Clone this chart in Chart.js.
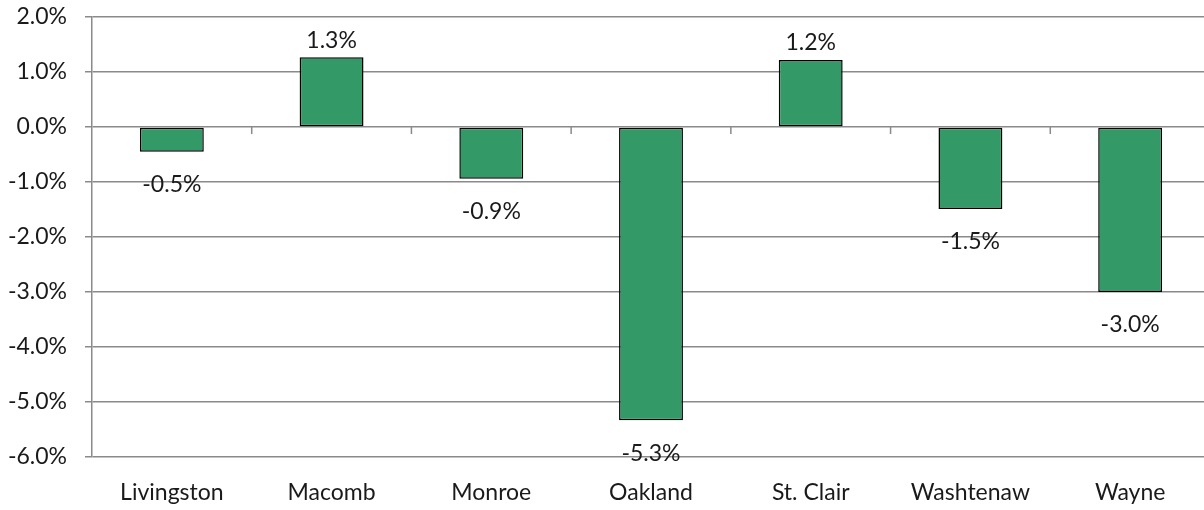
<!DOCTYPE html>
<html lang="en">
<head>
    <meta charset="UTF-8">
    <title>Change by County</title>
    <script src="https://cdn.jsdelivr.net/npm/chart.js"></script>
    <style>
        html, body {
            margin: 0;
            padding: 0;
            overflow: hidden;
            background: #fff;
        }
        #chartContainer {
            width: 1210px; /* plot runs a little past the window edge */
            height: 510px;
        }
    </style>
</head>
<body>
    <div id="chartContainer">
        <canvas id="countyChart"></canvas>
    </div>

    <script>
        // Data for the chart
        const counties = ["Livingston", "Macomb", "Monroe", "Oakland", "St. Clair", "Washtenaw", "Wayne"];
        const changePct = [-0.45, 1.27, -0.94, -5.33, 1.22, -1.49, -3.0];
        const valueLabels = ["-0.5%", "1.3%", "-0.9%", "-5.3%", "1.2%", "-1.5%", "-3.0%"];

        const gridColor = '#8a8a8a';
        const textColor = '#1a1a1a';
        const fontFamily = 'Lato, "Open Sans", sans-serif';
        const fontSize = 23;

        // Small tick marks on the zero line between categories
        const zeroTicks = {
            id: 'zeroTicks',
            afterDatasetsDraw(chart) {
                const { ctx, scales } = chart;
                const x = scales.x, y = scales.y;
                const y0 = y.getPixelForValue(0);
                ctx.save();
                ctx.strokeStyle = gridColor;
                ctx.lineWidth = 1.5;
                ctx.beginPath();
                for (let i = 0; i < counties.length; i++) {
                    const bx = (x.getPixelForValue(i) + x.getPixelForValue(i + 1)) / 2;
                    ctx.moveTo(bx, y0);
                    ctx.lineTo(bx, y0 + 7);
                }
                ctx.stroke();
                ctx.restore();
            }
        };

        // Value labels outside the bar ends
        const valueText = {
            id: 'valueText',
            afterDatasetsDraw(chart) {
                const { ctx } = chart;
                const meta = chart.getDatasetMeta(0);
                ctx.save();
                ctx.fillStyle = textColor;
                ctx.font = fontSize + 'px ' + fontFamily;
                ctx.textAlign = 'center';
                ctx.textBaseline = 'middle';
                meta.data.forEach((bar, i) => {
                    const dy = changePct[i] >= 0 ? -17 : 33;
                    ctx.fillText(valueLabels[i], bar.x, bar.y + dy);
                });
                ctx.restore();
            }
        };

        const ctx = document.getElementById('countyChart').getContext('2d');

        const countyChart = new Chart(ctx, {
            type: 'bar',
            data: {
                labels: counties,
                datasets: [{
                    data: changePct,
                    backgroundColor: '#339966',
                    borderColor: '#000000',
                    borderWidth: 1.5,
                    borderSkipped: false,
                    barPercentage: 0.4,
                    categoryPercentage: 1.0
                }]
            },
            options: {
                responsive: true,
                maintainAspectRatio: false,
                animation: false,
                layout: { padding: { top: 17, left: 0, right: 0, bottom: 0 } },
                plugins: {
                    legend: { display: false },
                    tooltip: { enabled: false }
                },
                scales: {
                    x: {
                        grid: { display: false, drawTicks: false },
                        border: { display: false },
                        ticks: {
                            color: textColor,
                            font: { family: fontFamily, size: fontSize },
                            padding: 22,
                            maxRotation: 0
                        },
                        afterFit(scale) {
                            scale.height = 53;
                            scale.paddingLeft = 0;
                            scale.paddingRight = 0;
                        }
                    },
                    y: {
                        min: -6,
                        max: 2,
                        grid: {
                            color: gridColor,
                            lineWidth: 1.5,
                            tickLength: 7
                        },
                        border: { display: true, color: gridColor, width: 1.5 },
                        ticks: {
                            stepSize: 1,
                            color: textColor,
                            font: { family: fontFamily, size: fontSize },
                            padding: 18,
                            callback: v => v.toFixed(1) + '%'
                        },
                        afterFit(scale) {
                            scale.width = 92;
                            scale.paddingTop = 0;
                            scale.paddingBottom = 0;
                        }
                    }
                }
            },
            plugins: [zeroTicks, valueText]
        });
    </script>
</body>
</html>
